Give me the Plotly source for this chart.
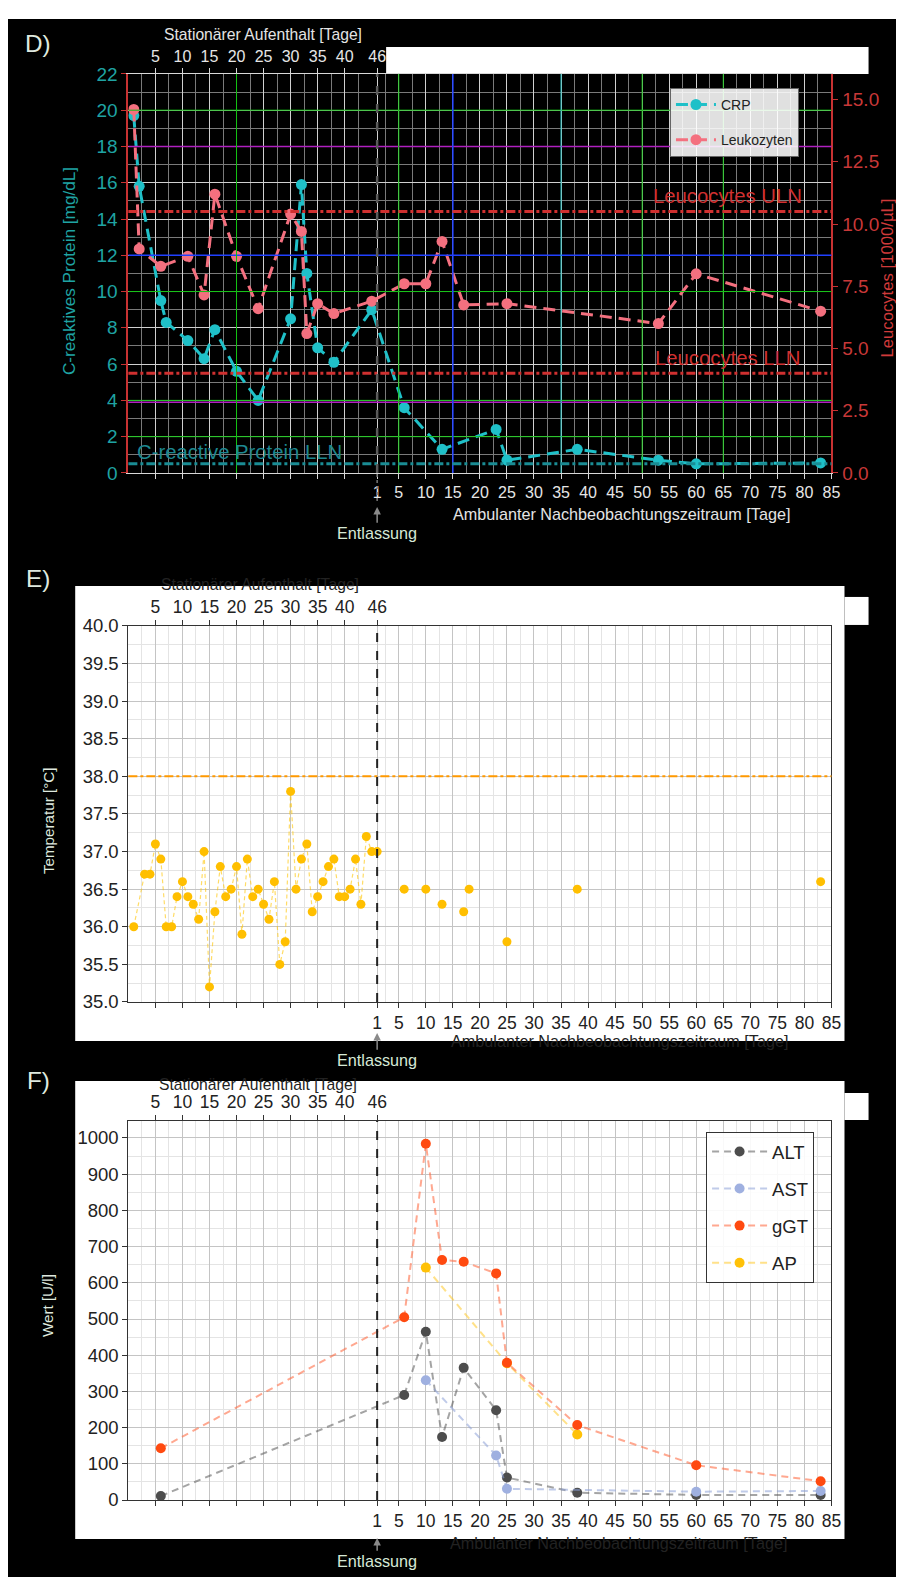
import plotly.graph_objects as go

W, H = 904, 1580
OUT_SHIFT = 45  # outpatient day d is drawn at inpatient-day scale position 45 + d

# ---------------- Panel D: CRP / Leukozyten ----------------
crp_in_days = [1, 2, 6, 7, 11, 14, 16, 20, 24, 30, 32, 33, 35, 38, 45]
crp_in_vals = [19.7, 15.8, 9.5, 8.3, 7.3, 6.3, 7.9, 5.6, 4.0, 8.5, 15.9, 11.0, 6.9, 6.1, 9.0]
crp_out_days = [6, 13, 23, 25, 38, 53, 60, 83]
crp_out_vals = [3.6, 1.3, 2.4, 0.7, 1.3, 0.7, 0.5, 0.55]

leu_in_days = [1, 2, 6, 11, 14, 16, 20, 24, 30, 32, 33, 35, 38, 45]
leu_in_vals = [14.6, 9.0, 8.3, 8.7, 7.15, 11.2, 8.7, 6.6, 10.4, 9.7, 5.6, 6.8, 6.4, 6.9]
leu_out_days = [6, 10, 13, 17, 25, 53, 60, 83]
leu_out_vals = [7.6, 7.6, 9.3, 6.75, 6.8, 6.0, 8.0, 6.5]

leu_uln = 10.5
leu_lln = 4.0
crp_lln = 0.5

# ---------------- Panel E: Temperatur ----------------
temp_in_days = [1, 3, 4, 5, 6, 7, 8, 9, 10, 11, 12, 13, 14, 15, 16, 17, 18, 19, 20, 21, 22, 23,
                24, 25, 26, 27, 28, 29, 30, 31, 32, 33, 34, 35, 36, 37, 38, 39, 40, 41, 42, 43,
                44, 45, 46]
temp_in_vals = [36.0, 36.7, 36.7, 37.1, 36.9, 36.0, 36.0, 36.4, 36.6, 36.4, 36.3, 36.1, 37.0, 35.2,
                36.2, 36.8, 36.4, 36.5, 36.8, 35.9, 36.9, 36.4, 36.5, 36.3, 36.1, 36.6, 35.5, 35.8,
                37.8, 36.5, 36.9, 37.1, 36.2, 36.4, 36.6, 36.8, 36.9, 36.4, 36.4, 36.5, 36.9, 36.3,
                37.2, 37.0, 37.0]
temp_out_days = [6, 10, 13, 17, 18, 25, 38, 83]
temp_out_vals = [36.5, 36.5, 36.3, 36.2, 36.5, 35.8, 36.5, 36.6]
fever_limit = 38.0

# ---------------- Panel F: Leberwerte ----------------
alt_in_days = [6]
alt_in_vals = [11]
alt_out_days = [6, 10, 13, 17, 23, 25, 38, 60, 83]
alt_out_vals = [290, 465, 174, 365, 248, 62, 20, 14, 14]

ast_out_days = [10, 23, 25, 60, 83]
ast_out_vals = [331, 123, 31, 23, 25]

ggt_in_days = [6]
ggt_in_vals = [143]
ggt_out_days = [6, 10, 13, 17, 23, 25, 38, 60, 83]
ggt_out_vals = [505, 984, 663, 658, 626, 379, 207, 96, 52]

ap_out_days = [10, 25, 38]
ap_out_vals = [642, 378, 181]

# ---------------- Tick labels ----------------
inpatient_ticks = [5, 10, 15, 20, 25, 30, 35, 40, 46]
outpatient_ticks = [1, 5, 10, 15, 20, 25, 30, 35, 40, 45, 50, 55, 60, 65, 70, 75, 80, 85]
discharge_day = 46

FONT = "Liberation Sans, Arial, Helvetica, sans-serif"

# page -> photograph mapping observed (page is scaled slightly and offset)
SC, OX, OY = 0.986, 8.0, 18.1


def PX(x):
    return (x - OX) / SC


def PY(y):
    return (y - OY) / SC


def fx(x):
    return min(1.0, max(0.0, PX(x) / W))


def fy(y):
    return min(1.0, max(0.0, 1 - PY(y) / H))


def fs(s):
    return round(s / SC, 1)


def t_out(days):
    return [OUT_SHIFT + d for d in days]


XDOM = [fx(128), fx(829)]
XRANGE = [0, 130]
D_DOM = [fy(472), fy(73)]
E_DOM = [fy(1001), fy(625)]
F_DOM = [fy(1499), fy(1120)]

bottom_vals = inpatient_ticks[:-1] + t_out(outpatient_ticks)
bottom_text = [""] * (len(inpatient_ticks) - 1) + [str(d) for d in outpatient_ticks]
top_vals = inpatient_ticks
top_text = [str(d) for d in inpatient_ticks]
minor_x = [2.5 + 5 * k for k in range(26)]

fig = go.Figure()

# ---- D traces
fig.add_trace(go.Scatter(x=crp_in_days + t_out(crp_out_days), y=crp_in_vals + crp_out_vals,
                         mode="lines+markers", name="CRP", legend="legend", legendgroup="a",
                         line=dict(color="#1fc0c8", width=3, dash="12px,7px"),
                         marker=dict(size=11, color="#1fc0c8"), xaxis="x", yaxis="y"))
fig.add_trace(go.Scatter(x=leu_in_days + t_out(leu_out_days), y=leu_in_vals + leu_out_vals,
                         mode="lines+markers", name="Leukozyten", legend="legend", legendgroup="b",
                         line=dict(color="#f4707f", width=3, dash="12px,7px"),
                         marker=dict(size=11, color="#f4707f"), xaxis="x", yaxis="y2"))
fig.add_trace(go.Scatter(x=[None], y=[None], xaxis="x2", yaxis="y", showlegend=False, hoverinfo="skip"))

# ---- E traces
fig.add_trace(go.Scatter(x=temp_in_days, y=temp_in_vals, mode="lines+markers", showlegend=False,
                         line=dict(color="rgba(255,196,0,0.6)", width=1.2, dash="4px,3px"),
                         marker=dict(size=9, color="#ffbf00"), xaxis="x3", yaxis="y3"))
fig.add_trace(go.Scatter(x=t_out(temp_out_days), y=temp_out_vals, mode="markers", showlegend=False,
                         marker=dict(size=9, color="#ffbf00"), xaxis="x3", yaxis="y3"))
fig.add_trace(go.Scatter(x=[None], y=[None], xaxis="x4", yaxis="y3", showlegend=False, hoverinfo="skip"))

# ---- F traces
fdash = "7px,5px"
fig.add_trace(go.Scatter(x=t_out(ap_out_days), y=ap_out_vals, mode="lines+markers", name="AP",
                         legend="legend2", legendgroup="ap", legendrank=4,
                         line=dict(color="rgba(255,200,40,0.55)", width=2, dash=fdash),
                         marker=dict(size=10, color="#ffc107"), xaxis="x5", yaxis="y4"))
fig.add_trace(go.Scatter(x=alt_in_days + t_out(alt_out_days), y=alt_in_vals + alt_out_vals,
                         mode="lines+markers", name="ALT", legend="legend2", legendgroup="alt", legendrank=1,
                         line=dict(color="rgba(90,90,90,0.55)", width=2, dash=fdash),
                         marker=dict(size=10, color="#4d4d4d"), xaxis="x5", yaxis="y4"))
fig.add_trace(go.Scatter(x=t_out(ast_out_days), y=ast_out_vals, mode="lines+markers", name="AST",
                         legend="legend2", legendgroup="ast", legendrank=2,
                         line=dict(color="rgba(140,160,215,0.55)", width=2, dash=fdash),
                         marker=dict(size=10, color="#9fb0e0"), xaxis="x5", yaxis="y4"))
fig.add_trace(go.Scatter(x=ggt_in_days + t_out(ggt_out_days), y=ggt_in_vals + ggt_out_vals,
                         mode="lines+markers", name="gGT", legend="legend2", legendgroup="ggt", legendrank=3,
                         line=dict(color="rgba(255,110,70,0.6)", width=2, dash=fdash),
                         marker=dict(size=10, color="#ff4a10"), xaxis="x5", yaxis="y4"))
fig.add_trace(go.Scatter(x=[None], y=[None], xaxis="x6", yaxis="y4", showlegend=False, hoverinfo="skip"))


def bottom_axis(anchor, dark):
    lc = "#d8d8d8" if dark else "#333333"
    return dict(domain=XDOM, anchor=anchor, range=XRANGE, tickmode="array", tickvals=bottom_vals,
                ticktext=bottom_text, ticks="outside", ticklen=5, tickcolor=lc,
                tickfont=dict(size=16 if dark else 17.5, color="#e6e6e6" if dark else "#222", family=FONT),
                showline=True, linecolor=lc, linewidth=1, mirror=False, zeroline=False,
                showgrid=True, gridcolor="#d0d0d0" if dark else "#c4c4c4", gridwidth=1,
                minor=dict(tickmode="array", tickvals=minor_x, showgrid=True, ticks="",
                           gridcolor="#7a7a7a" if dark else "#e4e4e4"))


def top_axis(over, anchor, dark):
    lc = "#d8d8d8" if dark else "#333333"
    return dict(overlaying=over, side="top", anchor=anchor, range=XRANGE, tickmode="array",
                tickvals=top_vals, ticktext=top_text, ticks="outside", ticklen=5, tickcolor=lc,
                tickfont=dict(size=16 if dark else 17.5, color="#e6e6e6" if dark else "#222", family=FONT),
                showline=True, linecolor=lc, showgrid=False, zeroline=False)


layout = dict(
    width=W, height=H, autosize=False, margin=dict(l=0, r=0, t=0, b=0),
    paper_bgcolor="#ffffff", plot_bgcolor="rgba(0,0,0,0)", font=dict(family=FONT),
    xaxis=bottom_axis("y", True), xaxis2=top_axis("x", "y", True),
    xaxis3=bottom_axis("y3", False), xaxis4=top_axis("x3", "y3", False),
    xaxis5=bottom_axis("y4", False), xaxis6=top_axis("x5", "y4", False),
    yaxis=dict(domain=D_DOM, anchor="x", range=[0, 22], tickmode="array",
               tickvals=list(range(0, 23, 2)), ticks="outside", ticklen=5, tickcolor="#c83232",
               tickfont=dict(size=19, color="#1fa3a3", family=FONT), showline=True,
               linecolor="#c83232", linewidth=2, zeroline=False, showgrid=True, gridcolor="#d0d0d0",
               minor=dict(tickmode="array", tickvals=list(range(1, 22, 2)), showgrid=True,
                          gridcolor="#7a7a7a", ticks="")),
    yaxis2=dict(overlaying="y", side="right", anchor="x", range=[0, 16.03], tickmode="array",
                tickvals=[0, 2.5, 5, 7.5, 10, 12.5, 15], ticktext=["0.0", "2.5", "5.0", "7.5", "10.0", "12.5", "15.0"],
                ticks="outside", ticklen=5, tickcolor="#c83232",
                tickfont=dict(size=19, color="#c83838", family=FONT), showline=True,
                linecolor="#c83232", linewidth=2, showgrid=False, zeroline=False),
    yaxis3=dict(domain=E_DOM, anchor="x3", range=[35, 40], tickmode="linear", tick0=35, dtick=0.5,
                tickformat=".1f", ticks="outside", ticklen=5, tickcolor="#333",
                tickfont=dict(size=18.5, color="#222", family=FONT), showline=True, linecolor="#333",
                mirror=True, zeroline=False, showgrid=True, gridcolor="#c4c4c4",
                minor=dict(dtick=0.25, showgrid=True, gridcolor="#e4e4e4", ticks="")),
    yaxis4=dict(domain=F_DOM, anchor="x5", range=[0, 1047], tickmode="linear", tick0=0, dtick=100,
                ticks="outside", ticklen=5, tickcolor="#333",
                tickfont=dict(size=18.5, color="#222", family=FONT), showline=True, linecolor="#333",
                mirror=True, zeroline=False, showgrid=True, gridcolor="#c4c4c4",
                minor=dict(dtick=50, showgrid=True, gridcolor="#e4e4e4", ticks="")),
    legend=dict(x=fx(668), y=fy(87), xanchor="left", yanchor="top", bgcolor="rgba(255,255,255,0.88)",
                bordercolor="#666", borderwidth=1, font=dict(size=14, color="#222", family=FONT),
                tracegroupgap=14, itemwidth=40),
    legend2=dict(x=fx(704), y=fy(1131), xanchor="left", yanchor="top", bgcolor="rgba(255,255,255,0.9)",
                 bordercolor="#333", borderwidth=1, font=dict(size=18.5, color="#222", family=FONT),
                 tracegroupgap=10, itemwidth=55, traceorder="grouped"),
)

shapes = []


def rect(x0, y0, x1, y1, color):
    shapes.append(dict(type="rect", xref="paper", yref="paper", x0=fx(x0), x1=fx(x1), y0=fy(y1), y1=fy(y0),
                       fillcolor=color, line=dict(width=0), layer="below"))


rect(7, 7, W + 20, H + 20, "#000000")
rect(385, 46, 866, 73, "#ffffff")
rect(75, 585, 842, 1040, "#ffffff")
rect(842, 596, 866, 624, "#ffffff")
rect(75, 1080, 842, 1538, "#ffffff")
rect(842, 1092, 866, 1119, "#ffffff")


def hline(yref, xref, y, color, width, dash="solid"):
    shapes.append(dict(type="line", xref=xref, x0=0, x1=1, yref=yref, y0=y, y1=y,
                       line=dict(color=color, width=width, dash=dash)))


def vline(xref, yref, x, color, width, dash="solid"):
    shapes.append(dict(type="line", xref=xref, x0=x, x1=x, yref=yref, y0=0, y1=1,
                       line=dict(color=color, width=width, dash=dash)))


# decorative coloured grid lines in panel D
for v in [20, 10, 4, 2]:
    hline("y", "x domain", v, "#10c010", 1)
for v in [18, 3.9]:
    hline("y", "x domain", v, "#b020c0", 1.5)
hline("y", "x domain", 12, "#2040ff", 1.5)
for v in [20, 50, 95, 110]:
    vline("x", "y domain", v, "#10c010", 1)
vline("x", "y domain", 60, "#2040ff", 1.5)
vline("x", "y domain", 80, "#20c0c0", 1)

# normal limits panel D
hline("y2", "x domain", leu_uln, "#d03030", 3, "dashdot")
hline("y2", "x domain", leu_lln, "#d03030", 3, "dashdot")
hline("y", "x domain", crp_lln, "#1a8c94", 3, "dashdot")
vline("x", "y domain", discharge_day, "#5a5a5a", 2.5, "dash")
shapes.append(dict(type="line", xref="x", x0=discharge_day, x1=discharge_day, yref="paper",
                   y0=fy(500), y1=fy(472), line=dict(color="#777", width=1.5, dash="dot")))

# panel E
hline("y3", "x3 domain", fever_limit, "#ff9900", 2, "dashdot")
vline("x3", "y3 domain", discharge_day, "#222", 2, "dash")
# panel F
vline("x5", "y4 domain", discharge_day, "#222", 2, "dash")

ann = []


def text(x, y, s, size, color, xanchor="center", angle=0):
    ann.append(dict(xref="paper", yref="paper", x=fx(x), y=fy(y), text=s, showarrow=False,
                    font=dict(size=fs(size), color=color, family=FONT), xanchor=xanchor, yanchor="middle",
                    textangle=angle))


def discharge_arrow(xref, tip_y, text_y):
    ann.append(dict(xref=xref, yref="paper", x=discharge_day, y=fy(tip_y), ax=0, ay=(text_y - tip_y) / SC,
                    text="Entlassung", showarrow=True, arrowhead=2, arrowsize=1, arrowwidth=1.5,
                    arrowcolor="#8a8a8a", font=dict(size=fs(16), color="#d6e8d6", family=FONT)))


LIGHT = "#dfe9df"
# panel labels
text(38, 43, "D)", 24, LIGHT)
text(38, 578, "E)", 24, LIGHT)
text(38, 1080, "F)", 24, LIGHT)

# panel D texts
text(262, 34, "Stationärer Aufenthalt [Tage]", 15.5, "#e4e4e4")
text(620, 513, "Ambulanter Nachbeobachtungszeitraum [Tage]", 16, "#e4e4e4")
text(69, 270, "C-reaktives Protein [mg/dL]", 17, "#1fa3a3", angle=-90)
text(885, 277, "Leucocytes [1000/µL]", 16.5, "#d03a3a", angle=-90)
text(802, 195, "Leucocytes ULN", 20, "#d03030", xanchor="right")
text(800, 357, "Leucocytes LLN", 20, "#d03030", xanchor="right")
text(135, 451, "C-reactive Protein LLN", 20, "#1e8890", xanchor="left")
discharge_arrow("x", 506, 532)

# panel E texts
text(259, 584, "Stationärer Aufenthalt [Tage]", 15.5, "#222")
text(618, 1040, "Ambulanter Nachbeobachtungszeitraum [Tage]", 16, "#222")
text(49, 820, "Temperatur [°C]", 15, LIGHT, angle=-90)
discharge_arrow("x3", 1032, 1059)

# panel F texts
text(257, 1084, "Stationärer Aufenthalt [Tage]", 15.5, "#222")
text(617, 1542, "Ambulanter Nachbeobachtungszeitraum [Tage]", 16, "#222")
text(48, 1305, "Wert [U/l]", 15, LIGHT, angle=-90)
discharge_arrow("x5", 1537, 1560)

layout["shapes"] = shapes
layout["annotations"] = ann
fig.update_layout(**layout)
fig.write_html("out.html")
